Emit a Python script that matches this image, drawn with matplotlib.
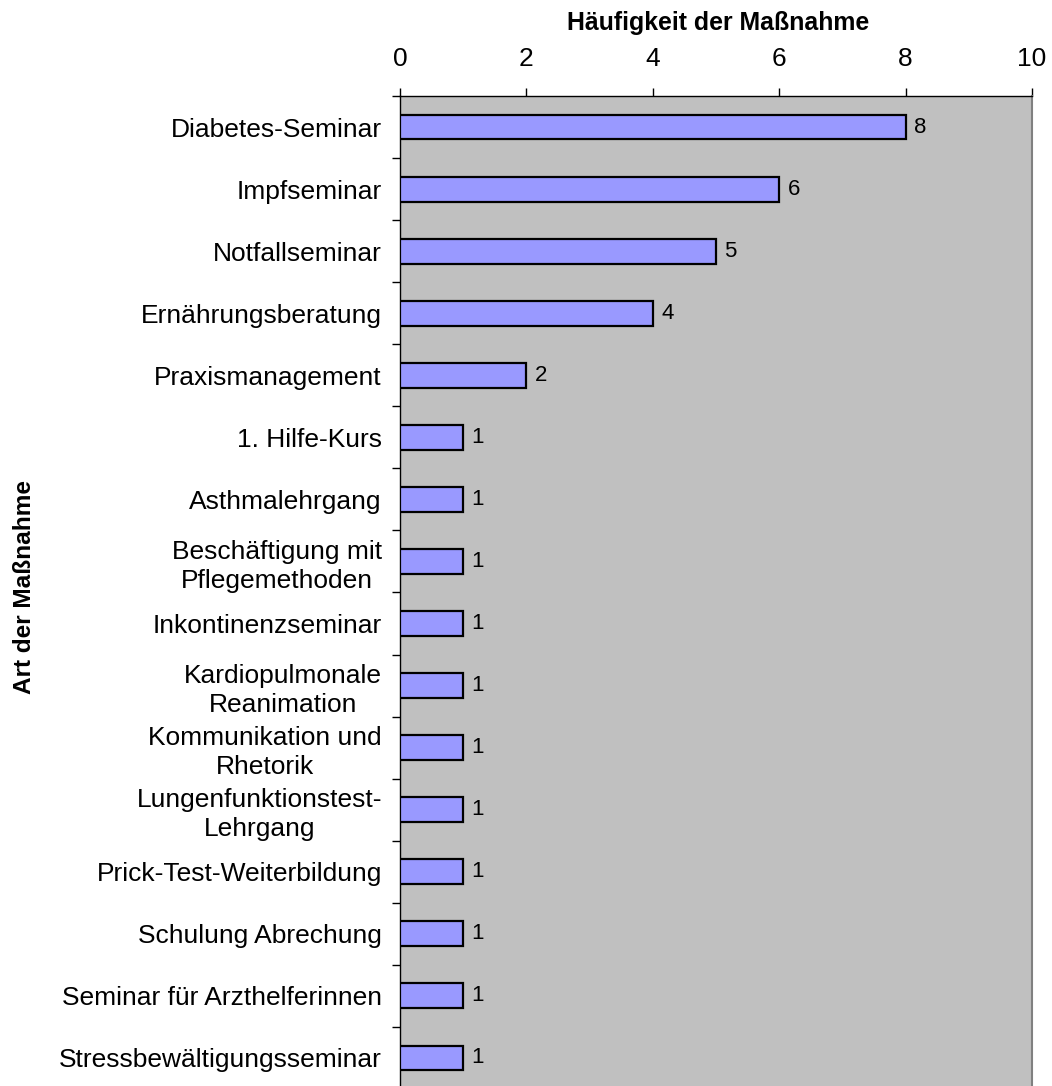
import matplotlib.pyplot as plt
import numpy as np

plt.rcParams['font.family'] = ['Liberation Sans', 'DejaVu Sans']

categories = [
    "Diabetes-Seminar",
    "Impfseminar",
    "Notfallseminar",
    "Ernährungsberatung",
    "Praxismanagement",
    "1. Hilfe-Kurs",
    "Asthmalehrgang",
    "Beschäftigung mit\nPflegemethoden",
    "Inkontinenzseminar",
    "Kardiopulmonale\nReanimation",
    "Kommunikation und\nRhetorik",
    "Lungenfunktionstest-\nLehrgang",
    "Prick-Test-Weiterbildung",
    "Schulung Abrechung",
    "Seminar für Arzthelferinnen",
    "Stressbewältigungsseminar",
]
counts = [8, 6, 5, 4, 2, 1, 1, 1, 1, 1, 1, 1, 1, 1, 1, 1]
xticks = [0, 2, 4, 6, 8, 10]

W, H = 1052, 1086
fig = plt.figure(figsize=(W / 100, H / 100), dpi=100)
ax = fig.add_axes([400 / W, 1 - 1089 / H, 632 / W, (1089 - 96) / H])

y = np.arange(len(categories))
ax.barh(y, counts, height=0.4, color="#9999FF", edgecolor="black", linewidth=1.6, zorder=3)
for yi, v in zip(y, counts):
    ax.text(v + 0.13, yi, str(v), va="center", ha="left", fontsize=16)

ax.set_facecolor("#C0C0C0")
ax.set_xlim(0, 10)
ax.set_ylim(len(categories) - 0.5, -0.5)

ax.xaxis.tick_top()
ax.set_xticks(xticks)
ax.tick_params(axis="x", which="major", length=6, width=1, pad=12, labelsize=19)

ax.set_yticks(y)
ax.set_yticklabels(categories)
ax.set_yticks(np.arange(len(categories) + 1) - 0.5, minor=True)
ax.tick_params(axis="y", which="major", length=0, pad=13, labelsize=19)
ax.tick_params(axis="y", which="minor", length=6, width=1)
for lbl in ax.get_yticklabels():
    lbl.set_multialignment("center")
    lbl.set_linespacing(1.25)

ax.spines["bottom"].set_visible(False)
ax.spines["right"].set_color("#808080")
ax.spines["right"].set_linewidth(1.5)
ax.spines["left"].set_linewidth(1)
ax.spines["top"].set_linewidth(1)

fig.text(718 / W, 1 - 23 / H, "Häufigkeit der Maßnahme", ha="center", va="center",
         fontsize=17.9, fontweight="bold")
fig.text(25 / W, 1 - 587 / H, "Art der Maßnahme", ha="center", va="center",
         rotation=90, fontsize=17.6, fontweight="bold")

fig.savefig("out.png", dpi=100)
